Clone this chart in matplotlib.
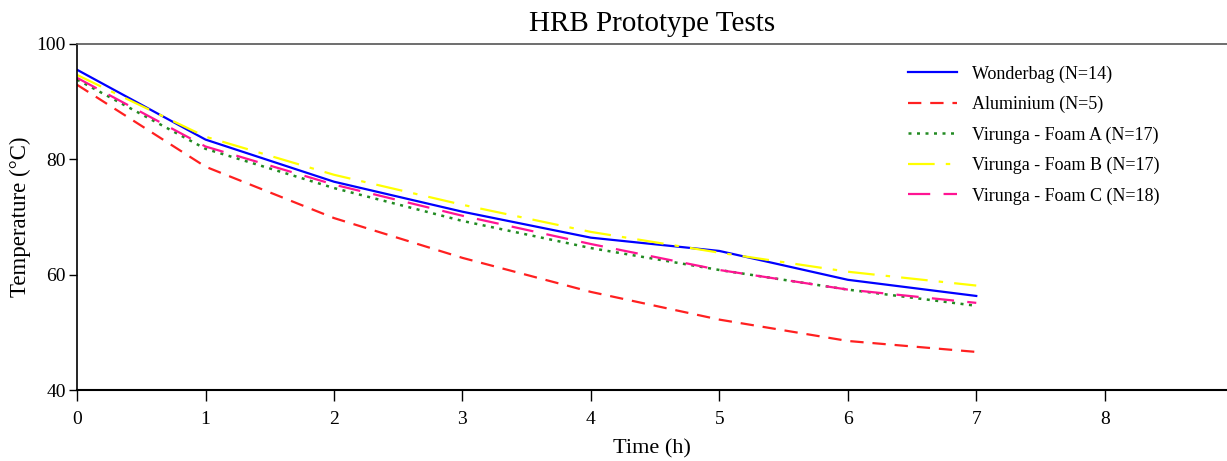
import matplotlib
matplotlib.use('Agg')
import matplotlib.pyplot as plt

# data (hourly means)
hours = [0, 1, 2, 3, 4, 5, 6, 7]
wonderbag = [95.5, 83.4, 76.1, 70.9, 66.4, 64.1, 59.1, 56.3]
aluminium = [92.9, 78.7, 69.8, 62.9, 57.0, 52.2, 48.5, 46.6]
foam_a = [93.8, 81.8, 75.0, 69.3, 64.6, 60.8, 57.4, 54.6]
foam_b = [94.6, 83.9, 77.3, 72.1, 67.4, 63.8, 60.5, 58.1]
foam_c = [94.1, 82.2, 75.6, 70.2, 65.3, 60.8, 57.4, 55.1]

plt.rcParams['font.family'] = ['Liberation Serif', 'DejaVu Serif']

fig = plt.figure(figsize=(12.27, 4.61), dpi=100)
ax = fig.add_axes([0.0628, 0.154, 0.937, 0.751])

ax.plot(hours, wonderbag, color='#0000ff', lw=1.6, label='Wonderbag (N=14)')
ax.plot(hours, aluminium, color='#ff2020', lw=1.6, dashes=(6, 4), label='Aluminium (N=5)')
ax.plot(hours, foam_a, color='#228b22', lw=1.8, dashes=(1.2, 2.2), label='Virunga - Foam A (N=17)')
ax.plot(hours, foam_b, color='#ffff00', lw=1.6, dashes=(12, 5, 2, 5), label='Virunga - Foam B (N=17)')
ax.plot(hours, foam_c, color='#ff1493', lw=1.6, dashes=(10, 6), label='Virunga - Foam C (N=18)')

ax.set_xlim(0, 8.95)
ax.set_ylim(40, 100)
ax.set_xticks(range(0, 9))
ax.set_yticks([40, 60, 80, 100])
ax.tick_params(axis='both', labelsize=14, direction='out', width=1)
ax.tick_params(axis='x', length=8, pad=7)
ax.tick_params(axis='y', length=6, pad=2)

ax.spines['right'].set_visible(False)
ax.spines['top'].set_color('#555555')
ax.spines['top'].set_linewidth(1.2)
ax.spines['left'].set_linewidth(1.2)
ax.spines['bottom'].set_linewidth(1.5)

ax.set_title('HRB Prototype Tests', fontsize=21, pad=9)
ax.set_xlabel('Time (h)', fontsize=16, labelpad=8)
ax.set_ylabel('Temperature (°C)', fontsize=16.5, labelpad=4)

ax.legend(loc='upper left', bbox_to_anchor=(0.709, 0.985), frameon=False, fontsize=13,
          handlelength=2.7, labelspacing=0.73, handletextpad=0.8)

fig.savefig('out.png', dpi=100)
